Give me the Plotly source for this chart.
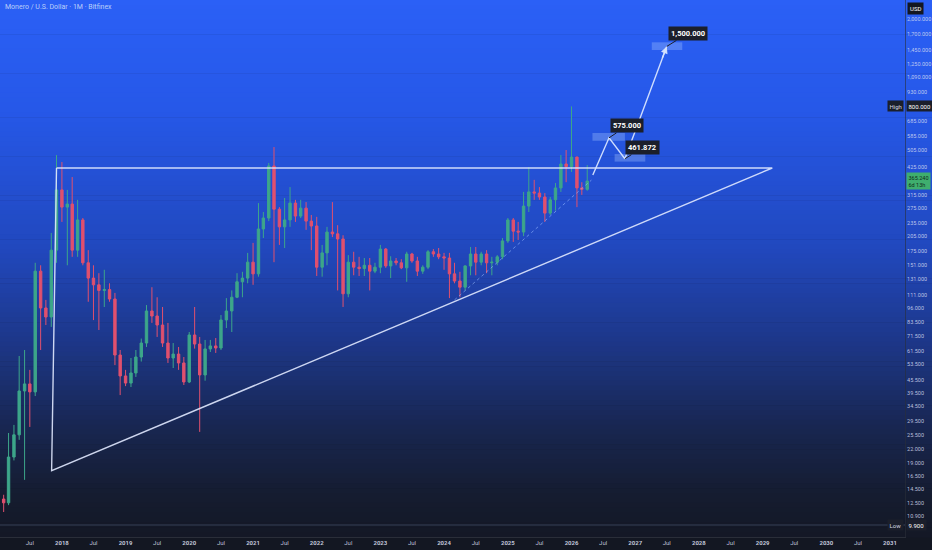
import numpy as np
import pandas as pd
import plotly.graph_objects as go

# monthly candles, Jan 2017 .. Apr 2026 (XMR/USD, Bitfinex, 1M)
months = pd.date_range('2017-01-01', '2026-04-01', freq='MS')

opens = [13.7, 13.0, 12.5, 20.2, 25.5, 40.4, 43.5, 40.0, 142, 96.5, 87.8, 177,
         333, 278, 287, 177, 243, 155, 132, 123, 116, 117, 106, 58.9,
         47.3, 43.9, 48.8, 57.7, 66.8, 93.5, 88.7, 80.7, 66.8, 57.1, 59.5, 54.2,
         44.4, 72.7, 66.1, 47.8, 62.8, 64.8, 63.4, 85.1, 93.5, 108, 127, 132,
         156, 138, 221, 248, 428, 272, 226, 243, 290, 253, 275, 240,
         228, 148, 172, 214, 210, 199, 112, 156, 148, 146, 151, 142,
         148, 179, 150, 158, 155, 147, 170, 158, 142, 148, 174, 170,
         165, 163, 138, 128, 120, 150, 170, 156, 170, 155, 156, 165,
         195, 243, 216, 214, 281, 326, 322, 309, 261, 300, 340, 437,
         425, 470, 340, 335]
highs = [14.9, 13.6, 26.0, 28.3, 58.3, 62.1, 50.4, 155, 151, 105, 212, 480,
         446, 333, 381, 300, 248, 177, 151, 139, 144, 125, 113, 62.1,
         50.4, 57.1, 62.1, 70, 99.5, 120, 108, 97.5, 82.5, 66.8, 64.1, 57.7,
         75, 97.5, 71.2, 69, 69, 70.4, 89.6, 107, 116, 139, 141, 172,
         191, 290, 264, 442, 522, 278, 306, 343, 300, 300, 293, 256,
         251, 187, 226, 293, 230, 207, 168, 174, 165, 163, 163, 155,
         187, 181, 166, 163, 161, 174, 172, 165, 151, 177, 179, 181,
         172, 172, 155, 141, 151, 183, 183, 174, 177, 165, 168, 201,
         248, 248, 238, 326, 423, 370, 343, 322, 309, 358, 480, 506,
         800, 472, 361, 432]
lows = [9.9, 11.35, 12.2, 19.5, 24.2, 15.9, 27.7, 38.3, 62.1, 80.7, 79.1, 155,
        238, 151, 165, 165, 151, 103, 85, 76.6, 97.5, 103, 53, 38.7,
        42.5, 42.1, 46.8, 55, 64.1, 82.5, 71.2, 64.1, 54.2, 51.4, 50.4, 43.0,
        43.9, 63, 26.3, 45, 60.8, 60.2, 62.1, 78.2, 75, 107, 108, 125,
        123, 134, 201, 240, 156, 187, 181, 226, 238, 248, 219, 177,
        135, 134, 151, 203, 116, 97.5, 108, 136, 135, 135, 116, 139,
        139, 147, 132, 151, 145, 127, 155, 135, 138, 145, 165, 161,
        144, 107, 125, 108, 116, 136, 136, 151, 139, 136, 151, 161,
        191, 193, 197, 205, 264, 300, 300, 238, 256, 268, 326, 361,
        402, 278, 316, 330]
closes = [13.0, 12.5, 20.2, 25.5, 40.4, 43.5, 40.0, 142, 96.5, 87.8, 177, 333,
          278, 287, 177, 243, 155, 132, 123, 116, 117, 106, 58.9, 47.3,
          43.9, 48.8, 57.7, 66.8, 93.5, 88.7, 80.7, 66.8, 57.1, 59.5, 54.2, 44.4,
          72.7, 66.1, 47.8, 62.8, 64.8, 63.4, 85.1, 93.5, 108, 127, 132, 156,
          138, 221, 248, 428, 272, 226, 243, 290, 253, 275, 240, 228,
          148, 172, 214, 210, 199, 112, 156, 148, 146, 151, 142, 148,
          179, 150, 158, 155, 147, 170, 158, 142, 148, 174, 170, 165,
          163, 138, 128, 120, 150, 170, 156, 170, 155, 156, 165, 195,
          243, 216, 214, 281, 326, 322, 309, 261, 300, 340, 437, 425,
          470, 340, 335, 365.24]

# drawings
tri_dates = ['2017-12-01', '2017-11-03', '2029-02-25', '2017-12-01']
tri_prices = [419, 17.5, 419, 419]

trend_dates = ['2024-03-01', '2026-04-25']
trend_prices = [105, 369]

path_dates = ['2026-05-03', '2026-08-04', '2026-11-03', '2027-07-01']
path_prices = [389, 575.000, 461.872, 1500.000]

target_boxes = [
    (['2026-05-01', '2026-11-03'], [558, 605]),
    (['2026-09-05', '2027-02-28'], [448, 485]),
    (['2027-04-06', '2027-09-28'], [1445, 1566]),
]

price_ticks = [2000, 1700, 1450, 1250, 1090, 930, 685, 585, 505, 425,
               315, 275, 235, 205, 175, 151, 131, 111, 96, 83.5, 71.5, 61.5,
               53.5, 45.5, 39.5, 34.5, 29.5, 25.5, 22, 19, 16.5, 14.5, 12.5, 10.9]

high_price = 800.000
low_price = 9.900
last_price = closes[-1]

years = list(range(2018, 2032))
time_ticks = ['2017-07-01']
time_text = ['Jul']
for y in years:
    time_ticks.append(f'{y}-01-01')
    time_text.append(f'<b>{y}</b>')
    if y < 2031:
        time_ticks.append(f'{y}-07-01')
        time_text.append('Jul')

UP = '#3da68a'
DOWN = '#e0506e'
LINE = 'rgba(225,233,255,0.9)'
FONT = 'Roboto'

fig = go.Figure()

fig.add_trace(go.Scatter(x=tri_dates, y=tri_prices, mode='lines',
                         line=dict(color=LINE, width=1.4), hoverinfo='skip'))

fig.add_trace(go.Scatter(x=trend_dates, y=trend_prices, mode='lines',
                         line=dict(color='rgba(150,185,255,0.6)', width=1, dash='dot'),
                         hoverinfo='skip'))

for bx, by in target_boxes:
    fig.add_trace(go.Scatter(x=[bx[0], bx[1], bx[1], bx[0], bx[0]],
                             y=[by[0], by[0], by[1], by[1], by[0]],
                             mode='lines', fill='toself', line=dict(width=0),
                             fillcolor='rgba(170,200,255,0.33)', hoverinfo='skip'))

fig.add_trace(go.Candlestick(
    x=months, open=opens, high=highs, low=lows, close=closes,
    increasing=dict(line=dict(color=UP, width=1), fillcolor=UP),
    decreasing=dict(line=dict(color=DOWN, width=1), fillcolor=DOWN),
    hoverinfo='skip'))

fig.add_trace(go.Scatter(x=path_dates, y=path_prices, mode='lines',
                         line=dict(color='rgba(215,228,255,0.95)', width=1.4),
                         hoverinfo='skip'))

# background gradient (top blue -> bottom navy)
stops = [(0.0, (43, 96, 246)), (0.2, (38, 88, 232)), (0.45, (33, 72, 190)),
         (0.62, (29, 55, 137)), (0.78, (24, 38, 80)), (0.9, (21, 28, 48)),
         (1.0, (19, 23, 34))]


def grad(t):
    for (t0, c0), (t1, c1) in zip(stops[:-1], stops[1:]):
        if t <= t1:
            f = (t - t0) / (t1 - t0)
            return 'rgb(%d,%d,%d)' % tuple(round(a + (b - a) * f) for a, b in zip(c0, c1))
    return 'rgb(%d,%d,%d)' % stops[-1][1]


shapes = []
n = 110
H_PLOT = 537
for i in range(n):
    top = i * H_PLOT / n
    bot = (i + 1) * H_PLOT / n
    shapes.append(dict(type='rect', xref='paper', yref='paper', layer='below',
                       x0=0, x1=932 / 905, y0=1 - (bot + 0.6) / H_PLOT, y1=1 - top / H_PLOT,
                       fillcolor=grad((top + bot) / 2 / 550), line=dict(width=0)))
# low price line
shapes.append(dict(type='line', xref='paper', yref='paper', x0=0, x1=1,
                   y0=12 / H_PLOT, y1=12 / H_PLOT,
                   line=dict(color='rgba(70,80,105,0.7)', width=1)))

ann = []
ann.append(dict(xref='paper', yref='paper', x=0, y=1, xshift=3, yshift=-7,
                xanchor='left', yanchor='middle', showarrow=False,
                text='Monero / U.S. Dollar · 1M · Bitfinex',
                font=dict(family=FONT, size=7, color='rgba(215,225,250,0.85)')))

# path labels
label_offsets = [None, (18, -12), (18, -11), (21, -13)]
for d, p, off in zip(path_dates, path_prices, label_offsets):
    if off is None:
        continue
    ann.append(dict(x=d, y=np.log10(p), xref='x', yref='y', text=f'<b>{p:,.3f}</b>',
                    showarrow=True, ax=off[0], ay=off[1], arrowhead=0, arrowwidth=1,
                    arrowcolor='#1b1f2b', bgcolor='#1b1f2b', borderpad=2,
                    font=dict(family=FONT, size=7.5, color='white')))

# arrow tip at the end of the path
ann.append(dict(x=path_dates[-1], y=np.log10(path_prices[-1]), xref='x', yref='y',
                text='', showarrow=True, ax=-5, ay=13, arrowhead=2, arrowsize=1,
                arrowwidth=1.4, arrowcolor='rgba(215,228,255,0.95)', standoff=0))

# price scale markers
ann.append(dict(xref='paper', yref='paper', x=1, y=1, xshift=2, yshift=-8,
                xanchor='left', yanchor='middle', showarrow=False, text='USD',
                bgcolor='#131722', borderpad=2,
                font=dict(family=FONT, size=6, color='white')))
for name, p in [('High', high_price), ('Low', low_price)]:
    ann.append(dict(xref='paper', yref='y', x=1, y=np.log10(p), xshift=-1,
                    xanchor='right', yanchor='middle', showarrow=False, text=name,
                    bgcolor='#1b1f2b', borderpad=1.5,
                    font=dict(family=FONT, size=6, color='rgba(230,235,250,0.9)')))
    ann.append(dict(xref='paper', yref='y', x=1, y=np.log10(p), xshift=1,
                    xanchor='left', yanchor='middle', showarrow=False, text=f'{p:,.3f}',
                    bgcolor='#1b1f2b', borderpad=1.5,
                    font=dict(family=FONT, size=6, color='white')))
ann.append(dict(xref='paper', yref='y', x=1, y=np.log10(last_price), xshift=1,
                xanchor='left', yanchor='middle', showarrow=False,
                text=f'{last_price:,.3f}<br>6d 13h', align='left',
                bgcolor='#3fae6e', borderpad=1.5,
                font=dict(family=FONT, size=5.5, color='#0f2a1a')))

fig.update_layout(
    width=932, height=550,
    margin=dict(l=0, r=27, t=0, b=13),
    paper_bgcolor='#131722',
    plot_bgcolor='rgba(0,0,0,0)',
    showlegend=False,
    shapes=shapes,
    annotations=ann,
    font=dict(family=FONT),
    xaxis=dict(type='date', range=['2017-01-11', '2031-03-28'],
               rangeslider=dict(visible=False), showgrid=False, zeroline=False,
               tickvals=time_ticks, ticktext=time_text, ticks='',
               tickfont=dict(family=FONT, size=6, color='rgba(215,220,235,0.9)'),
               showline=True, linecolor='#2a2e39', linewidth=1),
    yaxis=dict(type='log', side='right', range=[0.9411, 3.3876],
               showgrid=False, zeroline=False, ticks='',
               tickvals=price_ticks, ticktext=[f'{v:,.3f}' for v in price_ticks],
               tickfont=dict(family=FONT, size=5.5, color='rgba(215,222,242,0.85)'),
               showline=True, linecolor='rgba(42,46,57,0.6)', linewidth=1),
)

fig.write_html('out.html', config={'displayModeBar': False},
               post_script="document.body.style.margin='0px';document.body.style.overflow='hidden';")
